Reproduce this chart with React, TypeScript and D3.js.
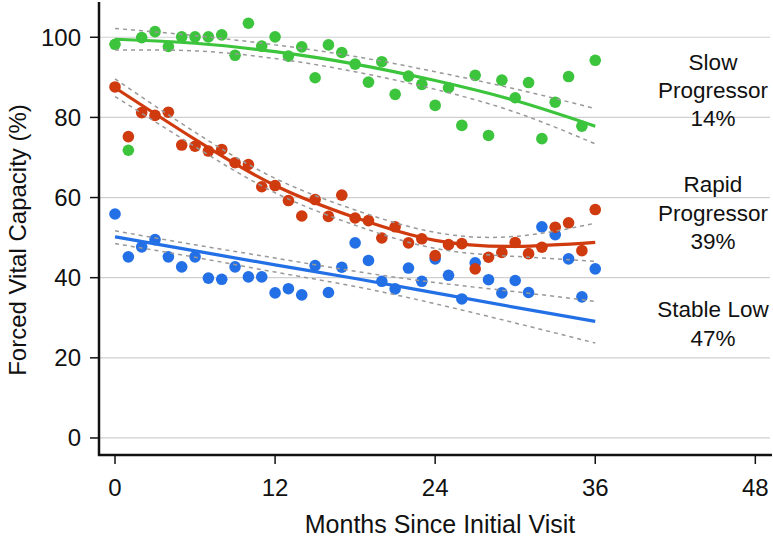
import React from "react";
import * as d3 from "d3";

const months = [0,1,2,3,4,5,6,7,8,9,10,11,12,13,14,15,16,17,18,19,20,21,22,23,24,25,26,27,28,29,30,31,32,33,34,35,36];
const slowValues = [98.25,71.8,99.9,101.4,97.7,100.1,100.1,100.1,100.6,95.5,103.5,97.8,100.1,95.3,97.6,89.9,98.1,96.2,93.3,88.8,93.9,85.75,90.3,88.25,83,87.4,78,90.5,75.5,89.3,84.9,88.7,74.7,83.8,90.2,77.8,94.25];
const rapidValues = [87.6,75.2,81.2,80.5,81.3,73.1,72.8,71.6,72,68.7,68.25,62.7,63,59.25,55.4,59.5,55.3,60.6,54.9,54.25,49.9,52.7,48.7,49.7,45.5,48.25,48.5,42.2,45.1,46.3,48.8,46,47.6,52.6,53.7,46.75,57];
const stableValues = [55.9,45.2,47.7,49.5,45.2,42.7,45.2,39.9,39.6,42.7,40.2,40.2,36.2,37.25,35.7,43,36.3,42.6,48.7,44.3,39.1,37.2,42.4,39.1,44.7,40.6,34.7,43.7,39.5,36.2,39.3,36.3,52.7,50.75,44.7,35.2,42.2];

const fitMonths = [0,6,12,18,24,30,36];
const slowFit = [99.5,98.5,96.4,93.3,89.2,84.2,77.8];
const slowUpper = [102.2,100.4,98.1,95.2,91.4,87.1,82.2];
const slowLower = [96.8,96.6,94.7,91.4,87.0,81.3,73.4];
const rapidFit = [87.4,74.5,63.0,55.0,49.3,47.8,48.8];
const rapidUpper = [89.6,76.3,64.8,56.9,51.3,50.3,53.6];
const rapidLower = [85.2,72.7,61.2,53.1,47.3,45.3,44.1];
const stableFit = [50.2,46.7,43.2,39.8,36.2,32.6,29.1];
const stableUpper = [51.7,48.2,44.9,41.6,38.8,36.5,34.1];
const stableLower = [48.5,45.1,41.4,37.8,33.5,28.7,23.7];

const yTicks = [0,20,40,60,80,100];
const xTicks = [0,12,24,36,48];

const groupNames = ["Stable Low", "Slow Progressor", "Rapid Progressor"];
const groupColors = ["#2370e6", "#3cc43c", "#cf3a0e"];
const labelLines = [["Slow", "Progressor", "14%"], ["Rapid", "Progressor", "39%"], ["Stable Low", "47%"]];

const W = 773, H = 539;
const FONT = "'Liberation Sans', Arial, Helvetica, sans-serif";

export default function App() {
  const x = d3.scaleLinear().domain([-1.2, 49.1]).range([99, 770]);
  const y = d3.scaleLinear().domain([-4.25, 109.3]).range([455, 0]);

  const line = d3.line<[number, number]>()
    .x((d) => x(d[0]))
    .y((d) => y(d[1]))
    .curve(d3.curveNatural);

  const mk = (vals: number[]) => fitMonths.map((m, i) => [m, vals[i]] as [number, number]);

  const groups = [
    { name: groupNames[0], color: groupColors[0], pts: stableValues, fit: stableFit, up: stableUpper, lo: stableLower },
    { name: groupNames[1], color: groupColors[1], pts: slowValues, fit: slowFit, up: slowUpper, lo: slowLower },
    { name: groupNames[2], color: groupColors[2], pts: rapidValues, fit: rapidFit, up: rapidUpper, lo: rapidLower },
  ];

  const labelPos = [
    { x: 713, y0: 70, dy: 28 },
    { x: 713, y0: 192, dy: 28.5 },
    { x: 713, y0: 317, dy: 28.5 },
  ];

  return (
    <svg width={W} height={H} style={{ position: "absolute", left: 0, top: 0, background: "#fff" }} fontFamily={FONT}>
      {yTicks.map((t) => (
        <line key={"g" + t} x1={99} x2={770} y1={y(t)} y2={y(t)} stroke="#d0d0d0" strokeWidth={1.2} />
      ))}
      {groups.map((g) => (
        <g key={"p" + g.name}>
          {months.map((m, i) => (
            <circle key={i} cx={x(m)} cy={y(g.pts[i])} r={5.8} fill={g.color} />
          ))}
        </g>
      ))}
      {groups.map((g) => (
        <path key={"f" + g.name} d={line(mk(g.fit)) || ""} fill="none" stroke={g.color} strokeWidth={3.2} />
      ))}
      {groups.map((g) => (
        <g key={"c" + g.name}>
          <path d={line(mk(g.up)) || ""} fill="none" stroke="#999" strokeWidth={1.5} strokeDasharray="4 4" />
          <path d={line(mk(g.lo)) || ""} fill="none" stroke="#999" strokeWidth={1.5} strokeDasharray="4 4" />
        </g>
      ))}
      <line x1={99} x2={99} y1={2} y2={456} stroke="#111" strokeWidth={2.5} />
      <line x1={98} x2={772} y1={455} y2={455} stroke="#111" strokeWidth={2.5} />
      {yTicks.map((t) => (
        <g key={"yt" + t}>
          <line x1={90} x2={99} y1={y(t)} y2={y(t)} stroke="#111" strokeWidth={1.5} />
          <text x={81} y={y(t) + 8.5} textAnchor="end" fontSize={24} fill="#111">{t}</text>
        </g>
      ))}
      {xTicks.map((t) => (
        <g key={"xt" + t}>
          <line x1={x(t)} x2={x(t)} y1={455} y2={464} stroke="#111" strokeWidth={1.5} />
          <text x={x(t)} y={496} textAnchor="middle" fontSize={24} fill="#111">{t}</text>
        </g>
      ))}
      <text x={440} y={533} textAnchor="middle" fontSize={25} fill="#111">Months Since Initial Visit</text>
      <text transform="translate(26,240) rotate(-90)" textAnchor="middle" fontSize={24} fill="#111">Forced Vital Capacity (%)</text>
      {labelLines.map((lines, k) => (
        <g key={"lab" + k}>
          {lines.map((s, j) => (
            <text key={j} x={labelPos[k].x} y={labelPos[k].y0 + j * labelPos[k].dy} textAnchor="middle" fontSize={22.5} fill="#111">{s}</text>
          ))}
        </g>
      ))}
    </svg>
  );
}
